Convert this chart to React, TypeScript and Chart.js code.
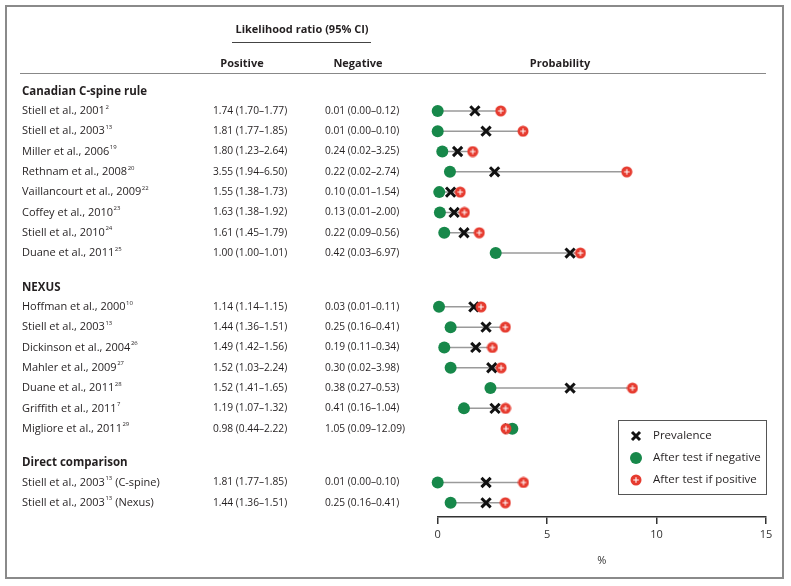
import React, { useEffect, useRef } from 'react';
import { Chart, registerables } from 'chart.js';

Chart.register(...registerables);

// ---------- data ----------
const sectionTitles = ['Canadian C-spine rule', 'NEXUS', 'Direct comparison'];
const rowSection = [0, 0, 0, 0, 0, 0, 0, 0, 1, 1, 1, 1, 1, 1, 1, 2, 2];
const studyNames = [
  'Stiell et al., 2001', 'Stiell et al., 2003', 'Miller et al., 2006', 'Rethnam et al., 2008',
  'Vaillancourt et al., 2009', 'Coffey et al., 2010', 'Stiell et al., 2010', 'Duane et al., 2011',
  'Hoffman et al., 2000', 'Stiell et al., 2003', 'Dickinson et al., 2004', 'Mahler et al., 2009',
  'Duane et al., 2011', 'Griffith et al., 2011', 'Migliore et al., 2011',
  'Stiell et al., 2003', 'Stiell et al., 2003',
];
const studyRefs = ['2', '13', '19', '20', '22', '23', '24', '25', '10', '13', '26', '27', '28', '7', '29', '13', '13'];
const studySuffix = ['', '', '', '', '', '', '', '', '', '', '', '', '', '', '', ' (C-spine)', ' (Nexus)'];
const positiveLR = [
  '1.74 (1.70–1.77)', '1.81 (1.77–1.85)', '1.80 (1.23–2.64)', '3.55 (1.94–6.50)',
  '1.55 (1.38–1.73)', '1.63 (1.38–1.92)', '1.61 (1.45–1.79)', '1.00 (1.00–1.01)',
  '1.14 (1.14–1.15)', '1.44 (1.36–1.51)', '1.49 (1.42–1.56)', '1.52 (1.03–2.24)',
  '1.52 (1.41–1.65)', '1.19 (1.07–1.32)', '0.98 (0.44–2.22)',
  '1.81 (1.77–1.85)', '1.44 (1.36–1.51)',
];
const negativeLR = [
  '0.01 (0.00–0.12)', '0.01 (0.00–0.10)', '0.24 (0.02–3.25)', '0.22 (0.02–2.74)',
  '0.10 (0.01–1.54)', '0.13 (0.01–2.00)', '0.22 (0.09–0.56)', '0.42 (0.03–6.97)',
  '0.03 (0.01–0.11)', '0.25 (0.16–0.41)', '0.19 (0.11–0.34)', '0.30 (0.02–3.98)',
  '0.38 (0.27–0.53)', '0.41 (0.16–1.04)', '1.05 (0.09–12.09)',
  '0.01 (0.00–0.10)', '0.25 (0.16–0.41)',
];
const prevalence = [1.7, 2.21, 0.91, 2.6, 0.59, 0.75, 1.2, 6.05, 1.65, 2.21, 1.74, 2.47, 6.05, 2.62, 3.25, 2.21, 2.21];
const probIfNegative = [0, 0, 0.21, 0.56, 0.07, 0.1, 0.3, 2.65, 0.06, 0.59, 0.3, 0.59, 2.41, 1.2, 3.41, 0, 0.59];
const probIfPositive = [2.88, 3.9, 1.6, 8.64, 1.03, 1.22, 1.9, 6.52, 1.98, 3.09, 2.5, 2.9, 8.9, 3.1, 3.12, 3.92, 3.09];
const xTicks = [0, 5, 10, 15];
const legendLabels = ['Prevalence', 'After test if negative', 'After test if positive'];

// ---------- styling ----------
const FONT = "'Open Sans', 'Noto Sans', sans-serif";
const TEXT = '#231f20';
const GREEN = '#17884a';
const RED = '#e63b2f';
const SECTION_GAP = 1.65;
const HEADER_OFFSET = 0.95;

const rowValue = (i: number) => i + 1 + rowSection[i] * SECTION_GAP;

function makePlusMarker(): HTMLCanvasElement {
  const c = document.createElement('canvas');
  c.width = 12;
  c.height = 12;
  const g = c.getContext('2d')!;
  g.fillStyle = RED;
  g.beginPath();
  g.arc(6, 6, 5.5, 0, Math.PI * 2);
  g.fill();
  g.strokeStyle = '#ffffff';
  g.lineWidth = 1.1;
  g.beginPath();
  g.moveTo(3.2, 6);
  g.lineTo(8.8, 6);
  g.moveTo(6, 3.2);
  g.lineTo(6, 8.8);
  g.stroke();
  return c;
}

function drawCross(ctx: CanvasRenderingContext2D, x: number, y: number, r: number) {
  ctx.save();
  ctx.strokeStyle = '#111';
  ctx.lineWidth = 3;
  ctx.beginPath();
  ctx.moveTo(x - r, y - r);
  ctx.lineTo(x + r, y + r);
  ctx.moveTo(x - r, y + r);
  ctx.lineTo(x + r, y - r);
  ctx.stroke();
  ctx.restore();
}

let plusMarker: HTMLCanvasElement;

const tablePlugin = {
  id: 'tablePlugin',
  beforeDraw(chart: any) {
    const ctx: CanvasRenderingContext2D = chart.ctx;
    ctx.save();
    ctx.fillStyle = '#ffffff';
    ctx.fillRect(0, 0, chart.width, chart.height);
    ctx.strokeStyle = '#8a8a8a';
    ctx.lineWidth = 2;
    ctx.strokeRect(6, 6, 777, 572);
    ctx.restore();
  },
  afterDraw(chart: any) {
    const ctx: CanvasRenderingContext2D = chart.ctx;
    const y = chart.scales.y;
    ctx.save();
    ctx.fillStyle = TEXT;
    ctx.textBaseline = 'middle';

    // column headings
    ctx.font = `bold 11px ${FONT}`;
    ctx.textAlign = 'center';
    ctx.fillText('Likelihood ratio (95% CI)', 302, 30);
    ctx.fillText('Positive', 242, 64);
    ctx.fillText('Negative', 358, 64);
    ctx.fillText('Probability', 560, 64);
    ctx.strokeStyle = '#444';
    ctx.lineWidth = 1;
    ctx.beginPath();
    ctx.moveTo(232, 42.5);
    ctx.lineTo(371, 42.5);
    ctx.stroke();
    ctx.strokeStyle = '#888';
    ctx.beginPath();
    ctx.moveTo(20, 73.5);
    ctx.lineTo(766, 73.5);
    ctx.stroke();

    // section titles
    ctx.textAlign = 'left';
    ctx.font = `bold 11.5px ${FONT}`;
    sectionTitles.forEach((t, s) => {
      const first = rowSection.indexOf(s);
      ctx.fillText(t, 22, y.getPixelForValue(rowValue(first) - HEADER_OFFSET));
    });

    // rows
    studyNames.forEach((name, i) => {
      const py = y.getPixelForValue(rowValue(i));
      ctx.font = `11px ${FONT}`;
      ctx.fillText(name, 22, py);
      let x = 22 + ctx.measureText(name).width + 0.5;
      ctx.font = `6px ${FONT}`;
      ctx.fillText(studyRefs[i], x, py - 4);
      x += ctx.measureText(studyRefs[i]).width;
      ctx.font = `11px ${FONT}`;
      if (studySuffix[i]) ctx.fillText(studySuffix[i], x, py);
      ctx.font = `10.2px ${FONT}`;
      ctx.fillText(positiveLR[i], 213, py);
      ctx.fillText(negativeLR[i], 325, py);
    });

    // legend
    ctx.strokeStyle = '#555';
    ctx.lineWidth = 1;
    ctx.strokeRect(618.5, 420.5, 148, 74);
    const ly = [436, 458, 480];
    drawCross(ctx, 636, ly[0], 4);
    ctx.fillStyle = GREEN;
    ctx.beginPath();
    ctx.arc(636, ly[1], 6, 0, Math.PI * 2);
    ctx.fill();
    ctx.drawImage(plusMarker, 630, ly[2] - 6);
    ctx.fillStyle = TEXT;
    ctx.font = `11.5px ${FONT}`;
    legendLabels.forEach((l, k) => ctx.fillText(l, 653, ly[k]));
    ctx.restore();
  },
};

export default function App() {
  const ref = useRef<HTMLCanvasElement>(null);
  useEffect(() => {
    plusMarker = makePlusMarker();
    const ys = studyNames.map((_, i) => rowValue(i));
    const connector: any[] = [];
    ys.forEach((yv, i) => {
      connector.push({ x: probIfNegative[i], y: yv });
      connector.push({ x: probIfPositive[i], y: yv });
      connector.push({ x: null, y: null });
    });
    const chart = new Chart(ref.current!, {
      type: 'scatter',
      data: {
        datasets: [
          {
            label: legendLabels[0],
            data: ys.map((yv, i) => ({ x: prevalence[i], y: yv })),
            pointStyle: 'crossRot',
            radius: 6.5,
            borderWidth: 3,
            borderColor: '#111',
            backgroundColor: '#111',
            clip: false,
            order: 3,
          },
          {
            label: legendLabels[1],
            data: ys.map((yv, i) => ({ x: probIfNegative[i], y: yv })),
            pointStyle: 'circle',
            radius: 6,
            borderWidth: 0,
            backgroundColor: GREEN,
            clip: false,
            order: 2,
          },
          {
            label: legendLabels[2],
            data: ys.map((yv, i) => ({ x: probIfPositive[i], y: yv })),
            pointStyle: plusMarker,
            radius: 6,
            clip: false,
            order: 1,
          },
          {
            type: 'line',
            label: 'link',
            data: connector,
            borderColor: '#9a9a9a',
            borderWidth: 1.5,
            pointRadius: 0,
            spanGaps: false,
            showLine: true,
            clip: false,
            order: 4,
          } as any,
        ],
      },
      options: {
        responsive: false,
        animation: false,
        devicePixelRatio: 1,
        layout: { padding: { left: 437.7, right: 25, top: 90.6, bottom: 18.6 } },
        plugins: { legend: { display: false }, tooltip: { enabled: false } },
        scales: {
          x: {
            type: 'linear',
            min: 0,
            max: 15,
            afterBuildTicks: (s: any) => {
              s.ticks = xTicks.map((v) => ({ value: v }));
            },
            grid: { display: true, drawOnChartArea: false, drawTicks: true, tickLength: 7, color: '#333', lineWidth: 1.5 },
            border: { display: true, color: '#333', width: 1.5 },
            ticks: { padding: 4, color: '#333', font: { family: FONT, size: 11 } },
            title: { display: true, text: '%', color: '#333', padding: { top: 9, bottom: 0 }, font: { family: FONT, size: 11 } },
          },
          y: { type: 'linear', min: 0, max: 21, reverse: true, display: false },
        },
      },
      plugins: [tablePlugin],
    });
    return () => chart.destroy();
  }, []);
  return (
    <div style={{ position: 'absolute', left: 0, top: 0, width: 791, height: 586, background: '#fff' }}>
      <canvas ref={ref} width={791} height={586} />
    </div>
  );
}
